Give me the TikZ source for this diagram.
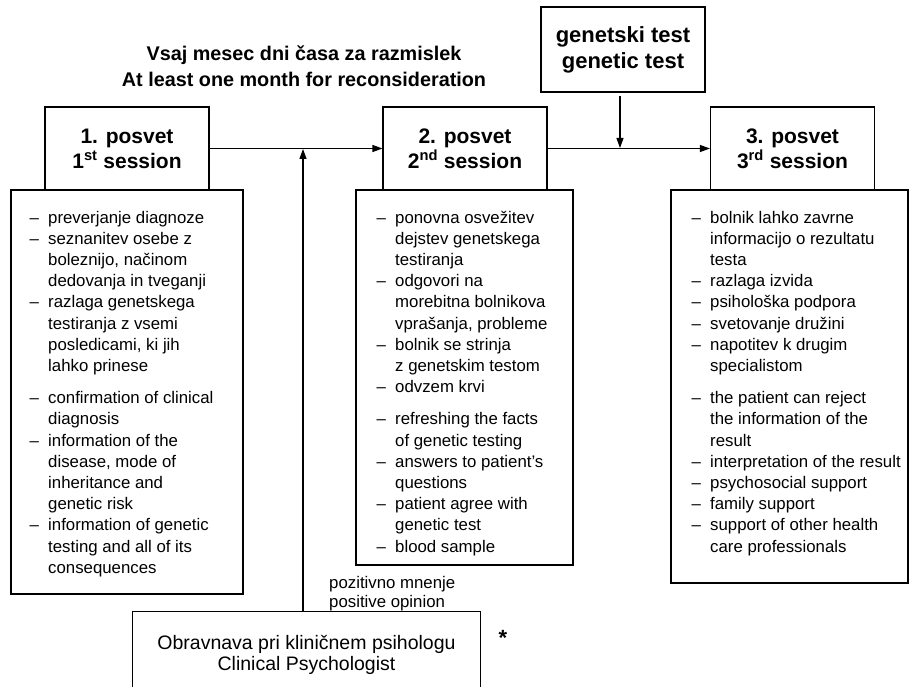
\documentclass[tikz,border=0pt]{standalone}
\usepackage{fontspec}
\setmainfont{Liberation Sans}
\usetikzlibrary{arrows.meta}
\newcommand\itemdash{\makebox[18.5pt][l]{–}}
\newcommand\itemcont{\hspace*{18.5pt}}
\newcommand\toplines[1]{\begin{tabular}[t]{@{}l@{}}#1\end{tabular}}
\begin{document}
\begin{tikzpicture}[x=1pt,y=-1pt,
  lw/.style={line width=1.1pt},
  hbox/.style={draw, lw, minimum width=164pt, minimum height=83pt, inner sep=0pt,
    font=\fontsize{21}{25}\selectfont\bfseries, align=center},
  cbox/.style={draw, lw, inner sep=0pt},
  body/.style={font=\fontsize{16.8}{21.2}\selectfont, inner sep=0pt, anchor=base west},
  arr/.style={lw, -{Triangle[length=10pt,width=7pt]}}]
\useasboundingbox (0,0) rectangle (910,687);

% title
\node[font=\fontsize{19.8}{25.5}\selectfont\bfseries, align=center] (title) at (304,66)
  {Vsaj mesec dni časa za razmislek\\At least one month for reconsideration};

% content boxes
\node[cbox, minimum width=232pt, minimum height=404pt] (c1) at (127,392) {};
\node[cbox, minimum width=217pt, minimum height=375pt] (c2) at (464.5,377.5) {};
\node[cbox, minimum width=237pt, minimum height=393pt] (c3) at (789.5,386.5) {};

% header boxes
\node[hbox] (h1) at (127,148.5) {1. posvet\\1\textsuperscript{st} session};
\node[hbox] (h2) at (465,148.5) {2. posvet\\2\textsuperscript{nd} session};
\node[hbox] (h3) at (792.5,148.5) {3. posvet\\3\textsuperscript{rd} session};
\node[hbox, minimum height=85pt, font=\fontsize{22}{26}\selectfont\bfseries] (gen) at (623,49.5) {genetski test\\genetic test};

% body texts
\node[body] (t1) at (29.5,223) {\toplines{\itemdash preverjanje diagnoze\\
\itemdash seznanitev osebe z\\
\itemcont boleznijo, načinom\\
\itemcont dedovanja in tveganji\\
\itemdash razlaga genetskega\\
\itemcont testiranja z vsemi\\
\itemcont posledicami, ki jih\\
\itemcont lahko prinese\\[11pt]
\itemdash confirmation of clinical\\
\itemcont diagnosis\\
\itemdash information of the\\
\itemcont disease, mode of\\
\itemcont inheritance and\\
\itemcont genetic risk\\
\itemdash information of genetic\\
\itemcont testing and all of its\\
\itemcont consequences}};

\node[body] (t2) at (376.5,223) {\toplines{\itemdash ponovna osvežitev\\
\itemcont dejstev genetskega\\
\itemcont testiranja\\
\itemdash odgovori na\\
\itemcont morebitna bolnikova\\
\itemcont vprašanja, probleme\\
\itemdash bolnik se strinja\\
\itemcont z genetskim testom\\
\itemdash odvzem krvi\\[11pt]
\itemdash refreshing the facts\\
\itemcont of genetic testing\\
\itemdash answers to patient’s\\
\itemcont questions\\
\itemdash patient agree with\\
\itemcont genetic test\\
\itemdash blood sample}};

\node[body] (t3) at (691.5,223) {\toplines{\itemdash bolnik lahko zavrne\\
\itemcont informacijo o rezultatu\\
\itemcont testa\\
\itemdash razlaga izvida\\
\itemdash psihološka podpora\\
\itemdash svetovanje družini\\
\itemdash napotitev k drugim\\
\itemcont specialistom\\[11pt]
\itemdash the patient can reject\\
\itemcont the information of the\\
\itemcont result\\
\itemdash interpretation of the result\\
\itemdash psychosocial support\\
\itemdash family support\\
\itemdash support of other health\\
\itemcont care professionals}};

% clinical psychologist box (bottom edge outside the picture)
\node[minimum width=347pt, minimum height=86pt, inner sep=0pt, align=center,
  font=\fontsize{19.5}{21.5}\selectfont] (clin) at (306.5,655)
  {Obravnava pri kliničnem psihologu\\Clinical Psychologist};
\draw[lw] (clin.south west) |- (clin.north east) -- (clin.south east);

\node[body, font=\fontsize{16.8}{19.5}\selectfont] (pos) at (329,588)
  {\toplines{pozitivno mnenje\\positive opinion}};
\node[font=\fontsize{22}{22}\selectfont\bfseries, anchor=base, inner sep=0pt] (ast) at (503,645) {*};

% connectors
\coordinate (m1) at (303,149);
\coordinate (m2) at (620,148);
\draw[arr] (h1.east) -- (h2.west);
\draw[arr] (h2.east) -- (h3.west);
\draw[arr] (clin.north -| m1) -- (m1);
\draw[arr, shorten <=3pt] (gen.south -| m2) -- (m2);
\end{tikzpicture}
\end{document}
